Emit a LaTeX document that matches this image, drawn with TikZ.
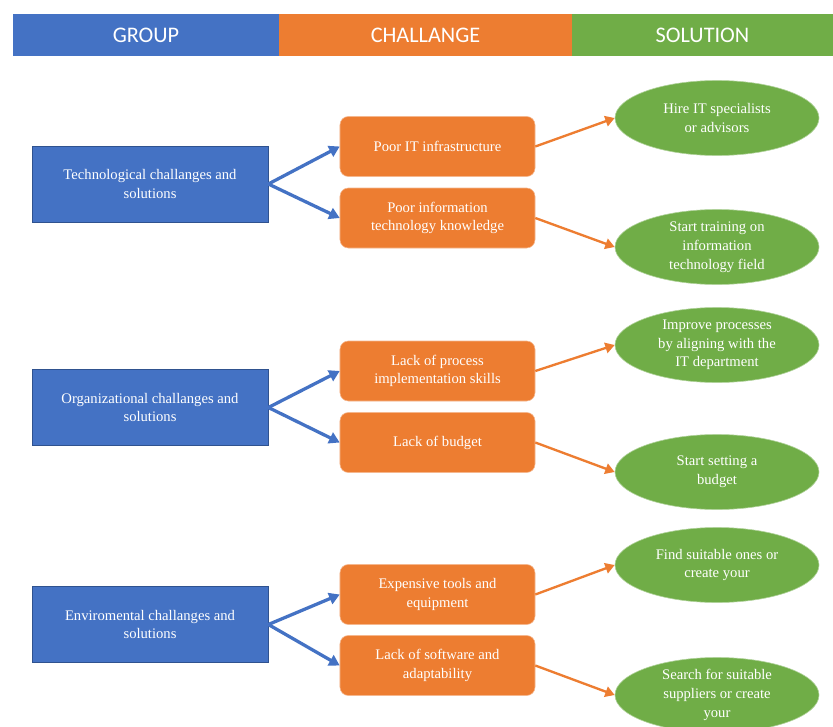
\documentclass[tikz,border=0pt]{standalone}
\usepackage{fontspec}
\setmainfont{Liberation Serif}
\newfontfamily\headfont{Carlito}
\usetikzlibrary{arrows.meta,shapes.geometric}
\definecolor{cblue}{HTML}{4472C4}
\definecolor{cblueedge}{HTML}{2F528F}
\definecolor{corange}{HTML}{ED7D31}
\definecolor{cgreen}{HTML}{70AD47}
\begin{document}
\begin{tikzpicture}[x=0.03cm,y=-0.03cm,
  head/.style={draw=none,inner sep=0pt,minimum height=1.26cm,text=white,font=\headfont\fontsize{19}{22}\selectfont},
  groupbox/.style={rectangle,fill=cblue,draw=cblueedge,line width=0.6pt,minimum width=7.08cm,minimum height=2.28cm,inner sep=0pt,
    text=white,align=center,font=\fontsize{12.5}{15.5}\selectfont},
  challbox/.style={rectangle,rounded corners=0.25cm,fill=corange,draw=corange!55!white,line width=0.5pt,minimum width=5.85cm,minimum height=1.8cm,inner sep=0pt,
    text=white,align=center,font=\fontsize{12.5}{16}\selectfont},
  solnode/.style={ellipse,fill=cgreen,draw=cgreen!55!white,line width=0.5pt,minimum width=6.12cm,minimum height=2.25cm,inner sep=0pt,
    text=white,align=center,font=\fontsize{12.5}{16}\selectfont},
  bluearrow/.style={draw=cblue,line width=2.8pt,-{Triangle[length=9pt,width=10pt]}},
  orangearrow/.style={draw=corange,line width=2pt,-{Triangle[length=8pt,width=9pt]}}
]
\useasboundingbox (0,0) rectangle (833,727);
\fill[white] (0,0) rectangle (833,727);

% header bar
\node[head,fill=cblue,minimum width=7.98cm] (hgroup) at (146,35) {GROUP};
\node[head,fill=corange,minimum width=8.79cm] (hchall) at (425.5,35) {CHALLANGE};
\node[head,fill=cgreen,minimum width=7.83cm] (hsol) at (702.5,35) {SOLUTION};

% groups
\node[groupbox] (tech) at (150,184) {Technological challanges and\\solutions};
\node[groupbox] (org) at (150,407.5) {Organizational challanges and\\solutions};
\node[groupbox] (env) at (150,624.5) {Enviromental challanges and\\solutions};

% challenges
\node[challbox] (infra) at (437.5,146.5) {Poor IT infrastructure};
\node[challbox] (know) at (437.5,218) {Poor information\\technology knowledge};
\node[challbox] (proc) at (437.5,371) {Lack of process\\implementation skills};
\node[challbox] (budget) at (437.5,442.5) {Lack of budget};
\node[challbox] (tools) at (437.5,594.5) {Expensive tools and\\equipment};
\node[challbox] (soft) at (437.5,665.5) {Lack of software and\\adaptability};

% solutions
\node[solnode] (hire) at (717,118) {Hire IT specialists\\or advisors};
\node[solnode] (train) at (717,247) {Start training on\\information\\technology field};
\node[solnode] (improve) at (717,345) {Improve processes\\by aligning with the\\IT department};
\node[solnode] (setbud) at (717,472) {Start setting a\\budget};
\node[solnode] (find) at (717,565) {Find suitable ones or\\create your};
\node[solnode] (search) at (717,695) {Search for suitable\\suppliers or create\\your};

% group -> challenge
\draw[bluearrow] (tech.east) -- (infra.west);
\draw[bluearrow] (tech.east) -- (know.west);
\draw[bluearrow] (org.east) -- (proc.west);
\draw[bluearrow] (org.east) -- (budget.west);
\draw[bluearrow] (env.east) -- (tools.west);
\draw[bluearrow] (env.east) -- (soft.west);

% challenge -> solution
\draw[orangearrow] (infra.east) -- (hire.west);
\draw[orangearrow] (know.east) -- (train.west);
\draw[orangearrow] (proc.east) -- (improve.west);
\draw[orangearrow] (budget.east) -- (setbud.west);
\draw[orangearrow] (tools.east) -- (find.west);
\draw[orangearrow] (soft.east) -- (search.west);
\end{tikzpicture}
\end{document}
